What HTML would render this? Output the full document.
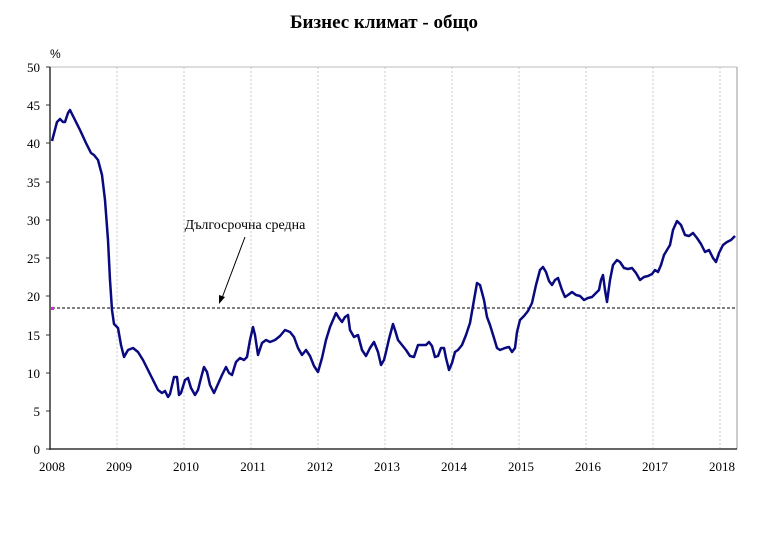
<!DOCTYPE html>
<html><head><meta charset="utf-8"><style>
body{margin:0;background:#fff;width:768px;height:540px;overflow:hidden}
svg text{font-family:"Liberation Serif",serif}
</style></head><body>
<svg width="768" height="540" xmlns="http://www.w3.org/2000/svg">
<text x="384" y="28" font-size="19" font-weight="bold" text-anchor="middle">Бизнес климат - общо</text>
<text x="50" y="58" font-size="12" style="font-family:'Liberation Sans',sans-serif">%</text>
<g stroke="#c8c8c8" stroke-dasharray="2,2" stroke-width="1">
<line x1="117" y1="67" x2="117" y2="449"/><line x1="184" y1="67" x2="184" y2="449"/><line x1="251" y1="67" x2="251" y2="449"/><line x1="318" y1="67" x2="318" y2="449"/><line x1="385" y1="67" x2="385" y2="449"/><line x1="452" y1="67" x2="452" y2="449"/><line x1="519" y1="67" x2="519" y2="449"/><line x1="586" y1="67" x2="586" y2="449"/><line x1="653" y1="67" x2="653" y2="449"/><line x1="720" y1="67" x2="720" y2="449"/>
</g>
<line x1="50" y1="67" x2="737" y2="67" stroke="#bbb"/>
<line x1="737" y1="67" x2="737" y2="449" stroke="#999"/>
<line x1="50" y1="67" x2="50" y2="450" stroke="#333" stroke-width="1.5"/>
<line x1="49" y1="449" x2="737" y2="449" stroke="#333" stroke-width="1.5"/>
<g stroke="#333">
<line x1="46" y1="67" x2="50" y2="67"/><line x1="46" y1="105" x2="50" y2="105"/><line x1="46" y1="143" x2="50" y2="143"/><line x1="46" y1="182" x2="50" y2="182"/><line x1="46" y1="220" x2="50" y2="220"/><line x1="46" y1="258" x2="50" y2="258"/><line x1="46" y1="296" x2="50" y2="296"/><line x1="46" y1="335" x2="50" y2="335"/><line x1="46" y1="373" x2="50" y2="373"/><line x1="46" y1="411" x2="50" y2="411"/><line x1="46" y1="449" x2="50" y2="449"/>
</g>
<g font-size="13" text-anchor="end" style="font-family:'Liberation Sans',sans-serif">
<text x="40" y="72">50</text><text x="40" y="110">45</text><text x="40" y="148">40</text><text x="40" y="187">35</text><text x="40" y="225">30</text><text x="40" y="263">25</text><text x="40" y="301">20</text><text x="40" y="340">15</text><text x="40" y="378">10</text><text x="40" y="416">5</text><text x="40" y="454">0</text>
</g>
<g font-size="13" text-anchor="middle">
<text x="52" y="471">2008</text><text x="119" y="471">2009</text><text x="186" y="471">2010</text><text x="253" y="471">2011</text><text x="320" y="471">2012</text><text x="387" y="471">2013</text><text x="454" y="471">2014</text><text x="521" y="471">2015</text><text x="588" y="471">2016</text><text x="655" y="471">2017</text><text x="722" y="471">2018</text>
</g>
<line x1="52" y1="308" x2="737" y2="308" stroke="#000" stroke-dasharray="3,2" stroke-width="1"/>
<rect x="51" y="307" width="3" height="3" fill="#e020e0"/>
<text x="245" y="229" font-size="14" text-anchor="middle">Дългосрочна средна</text>
<line x1="245" y1="237" x2="222" y2="298" stroke="#000"/>
<polygon points="219,304 219,295 225,297" fill="#000"/>
<polyline fill="none" stroke="#0a0a80" stroke-width="2.5" stroke-linejoin="round" points="52,141 57,122 60,119 63,122 65,122 68,113 70,110 74,118 80,130 86,143 91,153 94,155 98,160 102,175 105,200 108,240 110,280 112,310 114,324 118,328 121,345 124,357 128,350 133,348 138,352 143,360 148,370 153,380 158,390 162,393 165,391 168,397 170,394 174,377 177,377 179,395 181,393 185,380 188,378 191,388 195,395 198,390 201,378 204,367 207,372 210,385 214,393 218,384 222,375 226,367 229,373 232,375 236,362 240,358 244,360 247,357 250,340 253,327 255,335 258,355 262,343 266,340 270,342 275,340 280,336 285,330 290,332 294,337 298,348 302,355 306,350 310,356 314,366 318,372 322,358 326,340 330,327 333,320 336,313 339,318 342,322 345,317 348,315 350,330 354,337 358,335 362,350 366,356 370,348 374,342 378,352 381,365 384,360 386,352 389,339 393,324 395,330 398,340 402,345 406,350 410,356 414,357 418,345 422,345 426,345 429,342 432,346 435,357 438,356 441,348 444,348 446,358 449,370 452,363 455,352 458,350 462,345 466,335 470,323 474,300 477,283 480,285 484,300 487,317 490,325 494,338 497,348 500,350 505,348 509,347 512,352 515,348 517,332 520,320 524,316 528,311 532,303 536,285 540,270 543,267 546,272 549,281 552,285 555,280 558,278 562,290 565,297 568,295 572,292 576,295 580,296 584,300 588,298 592,297 596,293 599,290 601,280 603,275 605,290 607,302 610,280 613,265 617,260 620,262 624,268 628,269 632,268 636,273 640,280 644,277 648,276 652,274 655,270 658,272 661,265 664,255 667,250 670,245 673,230 677,221 681,225 685,235 689,236 693,233 697,238 701,244 705,252 709,250 713,258 716,262 719,253 723,245 727,242 731,240 735,236"/>
</svg>
</body></html>
